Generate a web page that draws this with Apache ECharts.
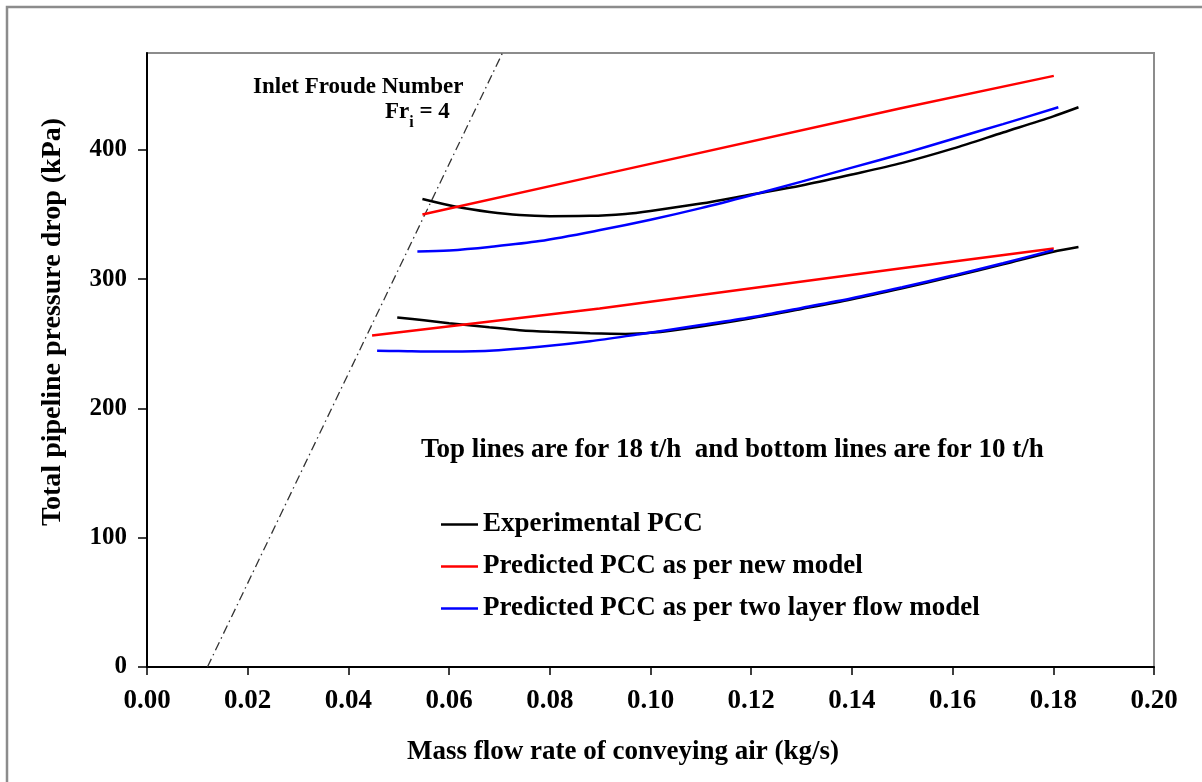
<!DOCTYPE html>
<html>
<head>
<meta charset="utf-8">
<script src="https://cdn.jsdelivr.net/npm/echarts@6/dist/echarts.min.js"></script>
<style>
  html, body { margin: 0; padding: 0; background: #fff; }
  #chart { width: 1202px; height: 782px; }
</style>
</head>
<body>
<div id="chart"></div>
<script>
// Mass flow rate of conveying air (kg/s) and total pipeline pressure drop (kPa)

// 18 t/h (top lines)
const expTopX = [0.0547, 0.0614, 0.068, 0.074, 0.080, 0.088, 0.095, 0.100, 0.110, 0.120, 0.130, 0.140, 0.150, 0.160, 0.170, 0.180, 0.185];
const expTopY = [362, 356, 352, 349.6, 348.8, 349, 350.5, 352.8, 358.5, 365.5, 372.5, 381, 390, 401, 413.5, 426, 433];
const newTopX = [0.0547, 0.0899, 0.1495, 0.1801];
const newTopY = [350, 380.5, 432, 457.3];
const twoTopX = [0.0537, 0.060, 0.068, 0.078, 0.090, 0.100, 0.110, 0.120, 0.130, 0.140, 0.150, 0.160, 0.170, 0.181];
const twoTopY = [321.5, 322.3, 325, 329.5, 338, 346, 355, 365, 375.5, 386.3, 397, 408.5, 420, 433];

// 10 t/h (bottom lines)
const expBotX = [0.0497, 0.055, 0.060, 0.068, 0.074, 0.080, 0.088, 0.095, 0.100, 0.110, 0.120, 0.130, 0.140, 0.150, 0.160, 0.170, 0.180, 0.185];
const expBotY = [270.4, 268.2, 266, 262.8, 260.6, 259.3, 258.2, 257.7, 258.5, 263.5, 269.8, 277, 284.5, 293, 302, 311.5, 321.3, 325];
const newBotX = [0.0447, 0.0899, 0.1495, 0.1801];
const newBotY = [256.5, 277.4, 308.3, 323.8];
const twoBotX = [0.0457, 0.050, 0.058, 0.068, 0.078, 0.088, 0.0978, 0.110, 0.120, 0.130, 0.140, 0.150, 0.160, 0.170, 0.180];
const twoBotY = [244.6, 244.4, 244, 244.6, 247.7, 252, 257.5, 264.5, 270.5, 277.8, 285.3, 293.8, 302.8, 312.3, 322.5];

// Inlet Froude number Fr_i = 4 boundary
const froudeX = [0.012, 0.0706];
const froudeY = [0, 475];

// Axes
const xTicks = [0, 0.02, 0.04, 0.06, 0.08, 0.10, 0.12, 0.14, 0.16, 0.18, 0.20];
const yTicks = [0, 100, 200, 300, 400];

const seriesNames = ['Experimental PCC', 'Predicted PCC as per new model', 'Predicted PCC as per two layer flow model'];

const FONT = 'Liberation Serif, Times New Roman, serif';
const zip = (xs, ys) => xs.map((x, i) => [x, ys[i]]);

function curve(name, color, xs, ys, z, smooth) {
  return {
    name: name,
    type: 'line',
    data: zip(xs, ys),
    smooth: smooth,
    symbol: 'none',
    z: z,
    lineStyle: { color: color, width: 2.5 },
    itemStyle: { color: color },
    emphasis: { disabled: true }
  };
}

const chart = echarts.init(document.getElementById('chart'), null, { renderer: 'canvas' });

chart.setOption({
  animation: false,
  backgroundColor: '#fff',
  grid: {
    left: 147, top: 53, right: 48, bottom: 115,
    show: true, borderColor: '#8c8c8c', borderWidth: 2, backgroundColor: 'transparent'
  },
  xAxis: {
    type: 'value',
    min: 0, max: 0.2, interval: 0.02,
    splitLine: { show: false },
    axisLine: { onZero: false, lineStyle: { color: '#000', width: 2 } },
    axisTick: { inside: false, length: 8, lineStyle: { color: '#000', width: 1.5 }, customValues: xTicks },
    axisLabel: {
      margin: 21, fontFamily: FONT, fontWeight: 'bold', fontSize: 27, color: '#000',
      customValues: xTicks,
      formatter: v => v.toFixed(2)
    }
  },
  yAxis: {
    type: 'value',
    min: 0, max: 475, interval: 100,
    splitLine: { show: false },
    axisLine: { onZero: false, lineStyle: { color: '#000', width: 2 } },
    axisTick: { inside: false, length: 9, lineStyle: { color: '#000', width: 1.5 }, customValues: yTicks },
    axisLabel: {
      margin: 20, fontFamily: FONT, fontWeight: 'bold', fontSize: 25, color: '#000',
      customValues: yTicks
    }
  },
  legend: {
    orient: 'vertical',
    left: 436, top: 506,
    itemWidth: 37, itemHeight: 2.5,
    itemGap: 15,
    icon: 'rect',
    selectedMode: false,
    data: seriesNames,
    textStyle: { fontFamily: FONT, fontWeight: 'bold', fontSize: 27, color: '#000', lineHeight: 27, padding: [0, 0, 0, 0] }
  },
  graphic: [
    {
      type: 'rect', silent: true, z: 100,
      shape: { x: 7, y: 7, width: 1300, height: 900 },
      style: { fill: 'none', stroke: '#8c8c8c', lineWidth: 2.5 }
    },
    {
      type: 'text', silent: true, left: 253, top: 76,
      style: { text: 'Inlet Froude Number', font: 'bold 23px ' + FONT, fill: '#000' }
    },
    {
      type: 'text', silent: true, left: 385, top: 101,
      style: {
        text: '{a|Fr}{s|i}{a| = 4}',
        rich: {
          a: { font: 'bold 23px ' + FONT, fill: '#000', verticalAlign: 'top', lineHeight: 30 },
          s: { font: 'bold 16px ' + FONT, fill: '#000', verticalAlign: 'bottom', lineHeight: 30, padding: [10, 0, 0, 0] }
        }
      }
    },
    {
      type: 'text', silent: true, left: 421, top: 437,
      style: { text: 'Top lines are for 18 t/h  and bottom lines are for 10 t/h', font: 'bold 27px ' + FONT, fill: '#000' }
    },
    {
      // horizontal axis title
      type: 'text', silent: true, x: 623, y: 752,
      style: {
        text: 'Mass flow rate of conveying air (kg/s)', font: 'bold 27px ' + FONT, fill: '#000',
        align: 'center', verticalAlign: 'middle'
      }
    },
    {
      // vertical axis title
      type: 'text', silent: true, x: 53, y: 322, rotation: Math.PI / 2,
      style: {
        text: 'Total pipeline pressure drop (kPa)', font: 'bold 28px ' + FONT, fill: '#000',
        align: 'center', verticalAlign: 'middle'
      }
    }
  ],
  series: [
    {
      name: 'froude',
      type: 'line',
      data: zip(froudeX, froudeY),
      symbol: 'none',
      z: 1,
      lineStyle: { color: '#333', width: 1.3, type: [9, 4, 1.5, 4] },
      emphasis: { disabled: true }
    },
    curve(seriesNames[0], '#000000', expTopX, expTopY, 2, 0.3),
    curve(seriesNames[0], '#000000', expBotX, expBotY, 2, 0.3),
    curve(seriesNames[1], '#ff0000', newTopX, newTopY, 3, false),
    curve(seriesNames[1], '#ff0000', newBotX, newBotY, 3, false),
    curve(seriesNames[2], '#0000ff', twoTopX, twoTopY, 4, 0.3),
    curve(seriesNames[2], '#0000ff', twoBotX, twoBotY, 4, 0.3)
  ]
});
</script>
</body>
</html>
